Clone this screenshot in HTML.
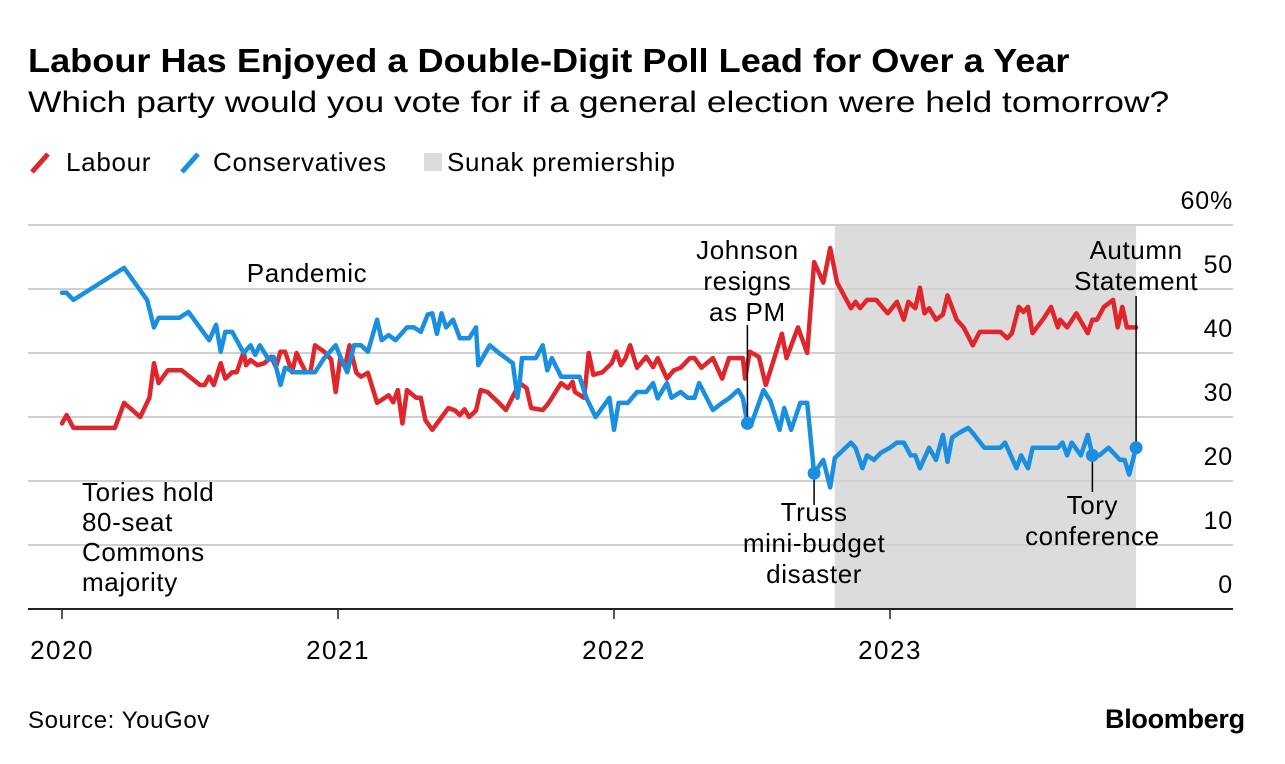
<!DOCTYPE html>
<html><head><meta charset="utf-8">
<style>
body{margin:0;background:#fff;font-family:"Liberation Sans",Arial,sans-serif;}
#wrap{position:relative;width:1285px;height:764px;overflow:hidden;}
.t{position:absolute;white-space:nowrap;color:#000;}
svg text{font-family:"Liberation Sans",Arial,sans-serif;}
.ann{font-size:26px;letter-spacing:0.6px;}
</style></head>
<body>
<div id="wrap">
<div class="t" style="left:28px;top:42px;font-size:33px;font-weight:bold;transform-origin:0 0;transform:scaleX(1.095);">Labour Has Enjoyed a Double-Digit Poll Lead for Over a Year</div>
<div class="t" style="left:28px;top:86px;font-size:30px;transform-origin:0 0;transform:scaleX(1.18);">Which party would you vote for if a general election were held tomorrow?</div>
<div>
<svg style="position:absolute;left:28px;top:150px" width="26" height="26"><line x1="4" y1="22" x2="20" y2="4" stroke="#e0262c" stroke-width="5"/></svg>
<div class="t" style="left:66px;top:147px;font-size:26px;letter-spacing:0.7px;">Labour</div>
<svg style="position:absolute;left:178px;top:150px" width="26" height="26"><line x1="4" y1="22" x2="20" y2="4" stroke="#1a8fe0" stroke-width="5"/></svg>
<div class="t" style="left:213px;top:147px;font-size:26px;letter-spacing:0.7px;">Conservatives</div>
<div style="position:absolute;left:424px;top:153px;width:18px;height:18px;background:#dcdcdc;"></div>
<div class="t" style="left:447px;top:147px;font-size:26px;letter-spacing:0.7px;">Sunak premiership</div>
</div>
<svg id="chart" style="position:absolute;left:0;top:0" width="1285" height="764"></svg>
<div class="t" style="left:28px;top:707px;font-size:24px;letter-spacing:0.6px;">Source: YouGov</div>
<div class="t" style="left:1105px;top:704px;font-size:27px;font-weight:bold;letter-spacing:-0.3px;">Bloomberg</div>
</div>
<script>
// months since Jan 2020
const labMonths=[0,0.2,0.5,2.3,2.7,3.4,3.8,4.0,4.2,4.6,5.2,6.0,6.2,6.4,6.6,6.9,7.1,7.4,7.6,7.9,8.0,8.2,8.5,8.8,9.1,9.3,9.5,9.7,10.0,10.2,10.4,10.6,10.8,11.0,11.4,11.7,11.9,12.1,12.3,12.5,12.8,13.0,13.3,13.7,14.2,14.4,14.6,14.8,15.0,15.4,15.6,15.8,16.1,16.8,17.1,17.3,17.5,17.7,18.0,18.2,18.5,19.0,19.3,19.9,20.2,20.4,20.9,21.1,21.3,21.7,22.0,22.2,22.3,22.7,22.9,23.1,23.5,23.9,24.1,24.3,24.5,24.7,25.0,25.4,25.7,25.9,26.3,26.6,26.9,27.3,27.5,27.8,28.3,28.7,29.0,29.6,29.7,29.9,30.3,30.6,30.9,31.3,31.5,32.0,32.4,32.7,33.1,33.4,33.7,34.3,34.5,34.7,35.0,35.4,35.9,36.3,36.6,36.8,37.1,37.3,37.5,37.7,38.0,38.3,38.5,38.9,39.2,39.6,39.9,40.8,41.1,41.3,41.6,41.8,42.0,42.2,42.7,43.0,43.3,43.4,43.7,44.1,44.6,44.8,45.0,45.3,45.7,45.9,46.1,46.3,46.7];
const labValues=[29,30.3,28.3,28.3,32.2,30,33,38.4,35.3,37.3,37.3,35,35,36.3,35,38.4,36,37,37,40.2,38.1,38.9,38.1,38.4,39.4,37.8,40.2,40.2,37,40,38.4,37,37,41.2,40.2,39,33.9,39.2,37.8,41.2,36.9,36.3,36.9,32.2,33.4,32.3,34.2,29,34.2,33,33,29.5,28,31.4,31,30.3,31.2,30,31,34.2,33.9,32.2,31.1,35.3,34.5,31.4,31.1,31.9,33,35.3,34.5,35.5,33.9,33,40,36.6,37,38.4,40.2,38.1,39.2,41.2,37.7,39.4,37.8,39.2,36,37.3,37.7,39.2,39.2,37.7,39.2,36,39.2,39.2,36,40.2,39.4,35,38.4,43,39.2,44,40,54.2,51,56.4,51,47,48,47,48.3,48.3,46.2,48,45.2,48,47,50.2,46.2,47,45.2,46,49,45.2,44,41.2,43.3,43.3,42.3,43.1,47.2,46.4,47.2,43.1,45.5,47.2,44,45.2,44,46.2,43.1,45.2,45.2,47.2,48.3,44,47.2,44,44];
const conMonths=[0,0.2,0.5,2.7,3.7,4.0,4.2,5.1,5.5,6.4,6.7,6.9,7.1,7.4,7.9,8.2,8.4,8.6,9.0,9.2,9.5,9.7,10.1,10.6,11.0,11.4,11.9,12.1,12.4,12.7,13.0,13.3,13.7,13.9,14.2,14.5,15.0,15.3,15.6,15.9,16.1,16.3,16.5,16.7,17.0,17.3,17.7,18.0,18.1,18.6,19.0,19.6,19.8,19.9,20.0,20.6,20.9,21.1,21.3,21.7,22.1,22.5,22.8,23.2,23.8,24.0,24.2,24.6,25.0,25.4,25.7,25.9,26.3,26.5,26.9,27.2,27.5,27.7,28.3,28.7,29.0,29.4,29.6,29.8,30.0,30.5,30.8,31.2,31.4,31.7,32.1,32.4,32.7,33.1,33.4,33.6,34.3,34.5,34.8,35.0,35.3,35.6,36.0,36.3,36.6,36.9,37.1,37.3,37.7,38.0,38.3,38.5,38.7,39.0,39.4,39.6,40.1,40.8,41.0,41.5,41.7,42.0,42.2,43.3,43.5,43.7,43.9,44.3,44.6,44.8,45.1,45.5,46.0,46.2,46.4,46.7];
const conValues=[49.4,49.4,48.3,53.3,48.3,44,45.5,45.5,46.4,42,44.4,40.2,43.3,43.3,40,41.2,39.7,41.2,38.9,39.4,35,37.7,37,37,37,39.2,41.2,39.4,37,41.2,41.2,40.2,45.2,42,42.8,42,44,44,43.3,46,46.2,43,46.2,44,45.2,42.3,42.3,44,38.1,41.2,40,38.4,33,35.3,39.2,39.2,41.2,37.3,39.2,36.3,36.3,36.3,33,30,33,28,32.2,32.2,33.9,33.9,35.3,32.9,35.3,33,33.9,33,33,35.3,31.1,32.2,32.9,34.2,33,29,29.2,34.2,32.5,28,31.4,28,32.2,32.2,21.2,23.3,19,23.6,26,25.2,22,24,23.3,24.4,25.2,26,26,24,24,22,25.2,23.3,27.2,23,26.8,27.5,28.3,27.5,25.2,25.2,26,22,24,22,25.2,25.2,26,24,26,24,27.2,24,24,25.2,23.3,23.3,21,25.2];
const yTicks=[0,10,20,30,40,50,60];
const yTickLabels=["0","10","20","30","40","50","60%"];
const xTickMonths=[0,12,24,36];
const xTickLabels=["2020","2021","2022","2023"];
const sunakStart=33.6, sunakEnd=46.7;

const NS="http://www.w3.org/2000/svg";
const svg=document.getElementById('chart');
const X=m=>62+m*23;
const Y=v=>609-v*6.4;
function mk(tag,attrs,parent){const e=document.createElementNS(NS,tag);for(const k in attrs)e.setAttribute(k,attrs[k]);(parent||svg).appendChild(e);return e;}

const shade=mk('rect',{x:X(sunakStart),y:225,width:X(sunakEnd)-X(sunakStart),height:Y(0)-225,fill:'#dcdcdc'});



yTicks.forEach((v,i)=>{
  if(v>0){const g=mk('line',{x1:28,x2:1233,y1:Y(v),y2:Y(v),stroke:'#d0d0d0','stroke-width':2});
  
  }
  const t=mk('text',{x:1233,y:Y(v)-16,'font-size':25,'letter-spacing':0.8,'text-anchor':'end'});
  t.textContent=yTickLabels[i].replace('%','');
  if(yTickLabels[i].includes('%')){const s=mk('tspan',{},t);s.textContent='%';}
  
  
});
const base=mk('line',{x1:28,x2:1233,y1:Y(0),y2:Y(0),stroke:'#222','stroke-width':2});


xTickMonths.forEach((m,i)=>{
  const l=mk('line',{x1:X(m),x2:X(m),y1:Y(0),y2:Y(0)+10,stroke:'#222','stroke-width':1.5});
  
  
  const t=mk('text',{x:X(m),y:Y(0)+50,'font-size':26,'letter-spacing':1.5,'text-anchor':'middle'});
  t.textContent=xTickLabels[i];
  
  
});

function line(ms,vs,color,name){
  const d=ms.map((m,i)=>(i?'L':'M')+X(m).toFixed(1)+','+Y(vs[i]).toFixed(1)).join('');
  const p=mk('path',{d:d,fill:'none',stroke:color,'stroke-width':4.5,'stroke-linejoin':'round','stroke-linecap':'round'});
  
  
}
line(labMonths,labValues,'#e0262c','labour-line');
line(conMonths,conValues,'#1a8fe0','conservatives-line');

const annotations=[
  {i:conMonths.indexOf(29.8),y2:325,lines:["Johnson","resigns","as PM"],ty:259,name:'annotation-johnson-resigns'},
  {i:conMonths.indexOf(32.7),y2:505,lines:["Truss","mini-budget","disaster"],ty:521,name:'annotation-truss-mini-budget'},
  {i:conMonths.indexOf(44.8),y2:492,lines:["Tory","conference"],ty:514,name:'annotation-tory-conference'},
  {i:conMonths.length-1,y2:296,lines:["Autumn","Statement"],ty:259,name:'annotation-autumn-statement'}
];
annotations.forEach(a=>{
  const cx=X(conMonths[a.i]),cy=Y(conValues[a.i]);
  const l=mk('line',{x1:cx,x2:cx,y1:cy,y2:a.y2,stroke:'#000','stroke-width':1.5});
  
  
  const c=mk('circle',{cx:cx,cy:cy,r:6.5,fill:'#1a8fe0'});
  
  
  a.lines.forEach((s,k)=>{
    const t=mk('text',{x:cx,y:a.ty+k*31,'class':'ann','text-anchor':'middle'});
    t.textContent=s;
    
    
  });
});
const pan=mk('text',{x:307,y:282,'class':'ann','text-anchor':'middle'});
pan.textContent='Pandemic';


["Tories hold","80-seat","Commons","majority"].forEach((s,k)=>{
  const t=mk('text',{x:82,y:501+k*30,'class':'ann'});
  t.textContent=s;
  
  
});
</script>
</body></html>
